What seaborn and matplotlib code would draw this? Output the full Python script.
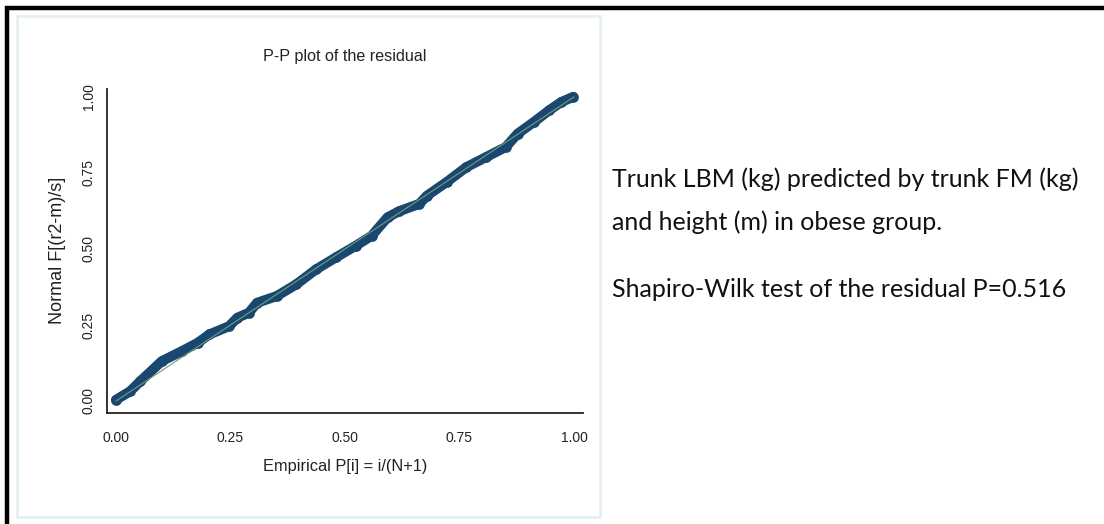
import matplotlib
matplotlib.use("Agg")
import matplotlib.pyplot as plt
import seaborn as sns
import pandas as pd
from matplotlib.patches import Rectangle
from matplotlib.lines import Line2D

# ---- data ----
empirical_p = [0.000, 0.031, 0.053, 0.100, 0.144, 0.178, 0.204, 0.247, 0.265, 0.290,
               0.308, 0.351, 0.394, 0.437, 0.480, 0.523, 0.558, 0.593, 0.618, 0.662,
               0.679, 0.722, 0.765, 0.808, 0.851, 0.877, 0.912, 0.946, 0.972, 0.998]
normal_f = [0.004, 0.032, 0.065, 0.131, 0.164, 0.191, 0.219, 0.246, 0.274, 0.290,
            0.323, 0.345, 0.384, 0.433, 0.472, 0.510, 0.543, 0.604, 0.624, 0.648,
            0.675, 0.720, 0.769, 0.802, 0.835, 0.879, 0.917, 0.956, 0.983, 1.000]
ref_x = [0.0, 1.0]
ref_y = [0.0, 1.0]
tick_values = [0.00, 0.25, 0.50, 0.75, 1.00]
tick_labels = ["0.00", "0.25", "0.50", "0.75", "1.00"]

title = "P-P plot of the residual"
xlabel = "Empirical P[i] = i/(N+1)"
ylabel = "Normal F[(r2-m)/s]"
note1 = "Trunk LBM (kg) predicted by trunk FM (kg)"
note2 = "and height (m) in obese group."
note3 = "Shapiro-Wilk test of the residual P=0.516"

sns.set_theme(style="white")
axis_font = ["Liberation Sans Narrow", "Liberation Sans", "DejaVu Sans"]
plt.rcParams["font.family"] = axis_font

W, H = 1104, 524
fig = plt.figure(figsize=(W / 100, H / 100), dpi=100)
fig.patch.set_facecolor("white")

def fx(px):
    return px / W

def fy(py):
    return 1 - py / H

# frames (decoration)
fig.add_artist(Rectangle((fx(17), fy(517)), fx(600) - fx(17), fy(16) - fy(517),
                         transform=fig.transFigure, fill=False,
                         edgecolor="#e4eef0", linewidth=1.8))
fig.add_artist(Line2D([fx(5), fx(1104)], [fy(8), fy(8)], transform=fig.transFigure,
                      color="black", linewidth=3.2, solid_capstyle="butt"))
fig.add_artist(Line2D([fx(7), fx(7)], [fy(6), fy(524)], transform=fig.transFigure,
                      color="black", linewidth=3.2, solid_capstyle="butt"))

# axes
left, right, top, bottom = 107, 583, 89, 413
ax = fig.add_axes([fx(left), fy(bottom), fx(right) - fx(left), fy(top) - fy(bottom)])
ax.set_facecolor("white")

df = pd.DataFrame({"p": empirical_p, "f": normal_f})
sns.lineplot(data=df, x="p", y="f", ax=ax, color="#1a476f", linewidth=7.2,
             solid_capstyle="round", solid_joinstyle="round", sort=False)
sns.scatterplot(data=df, x="p", y="f", ax=ax, color="#1a476f", s=60,
                edgecolor="#1a476f", linewidth=0, zorder=3)
sns.lineplot(x=ref_x, y=ref_y, ax=ax, color="#6f9f78", linewidth=0.8, zorder=4)

ax.set_xlim(-0.0197, 1.0197)
ax.set_ylim(-0.0395, 1.026)
ax.set_xticks(tick_values)
ax.set_xticklabels(tick_labels)
ax.set_yticks(tick_values)
ax.set_yticklabels(tick_labels, rotation=90, va="center")
for s in ["top", "right"]:
    ax.spines[s].set_visible(False)
for s in ["left", "bottom"]:
    ax.spines[s].set_color("#222222")
    ax.spines[s].set_linewidth(1.3)
ax.tick_params(axis="both", direction="out", length=5, width=1.1, color="#222222",
               labelsize=10, labelcolor="#222222")
ax.tick_params(axis="x", pad=8)
ax.tick_params(axis="y", pad=3)
ax.set_xlabel("")
ax.set_ylabel("")

fig.text(fx(345), fy(57), title, ha="center", va="center", fontsize=11.6,
         color="#222222", family=axis_font)
fig.text(fx(345), fy(467), xlabel, ha="center", va="center", fontsize=11.8,
         color="#222222", family=axis_font)
fig.text(fx(57), fy(250), ylabel, ha="center", va="center", fontsize=13,
         rotation=90, color="#222222", family=axis_font)

note_font = ["Lato", "Open Sans", "DejaVu Sans"]
for txt, base in [(note1, 187), (note2, 230), (note3, 297)]:
    fig.text(fx(612), fy(base), txt, ha="left", va="baseline", fontsize=18,
             color="#111111", family=note_font)

fig.savefig("out.png", dpi=100, facecolor="white")
